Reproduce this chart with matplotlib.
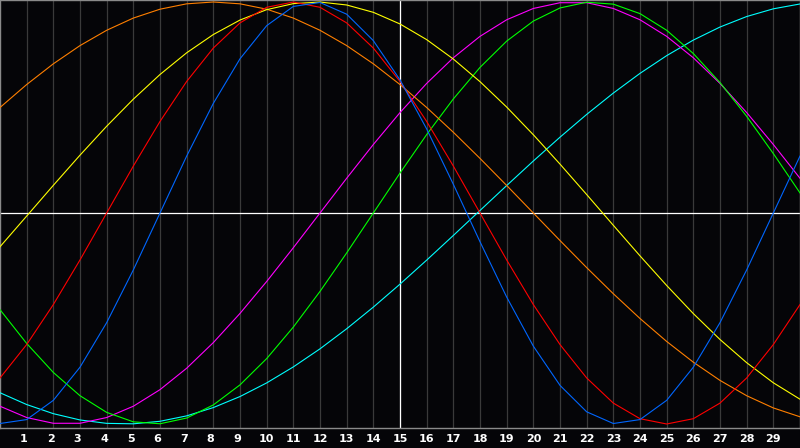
import matplotlib
matplotlib.use("Agg")
import matplotlib.pyplot as plt

days = list(range(0, 31))
tick_days = list(range(1, 30))
tick_labels = [str(d) for d in tick_days]

physical = [-0.9977, -0.9791, -0.8879, -0.7308, -0.5196, -0.2698, 0.0, 0.2698, 0.5196, 0.7308,
            0.8879, 0.9791, 0.9977, 0.9423, 0.8170, 0.6310, 0.3984, 0.1362, -0.1362, -0.3984,
            -0.6310, -0.8170, -0.9423, -0.9977, -0.9791, -0.8879, -0.7308, -0.5196, -0.2698, 0.0,
            0.2698]
emotional = [-0.7818, -0.6235, -0.4339, -0.2225, 0.0, 0.2225, 0.4339, 0.6235, 0.7818, 0.9010,
             0.9749, 1.0, 0.9749, 0.9010, 0.7818, 0.6235, 0.4339, 0.2225, 0.0, -0.2225,
             -0.4339, -0.6235, -0.7818, -0.9010, -0.9749, -1.0, -0.9749, -0.9010, -0.7818, -0.6235,
             -0.4339]
intellectual = [-0.4582, -0.6182, -0.7557, -0.8660, -0.9450, -0.9898, -0.9989, -0.9718, -0.9096, -0.8146,
                -0.6901, -0.5406, -0.3717, -0.1893, 0.0, 0.1893, 0.3717, 0.5406, 0.6901, 0.8146,
                0.9096, 0.9718, 0.9989, 0.9898, 0.9450, 0.8660, 0.7557, 0.6182, 0.4582, 0.2817,
                0.0951]
intuitive = [-0.9158, -0.9694, -0.9966, -0.9966, -0.9694, -0.9158, -0.8372, -0.7357, -0.6142, -0.4759,
             -0.3247, -0.1646, 0.0, 0.1646, 0.3247, 0.4759, 0.6142, 0.7357, 0.8372, 0.9158,
             0.9694, 0.9966, 0.9966, 0.9694, 0.9158, 0.8372, 0.7357, 0.6142, 0.4759, 0.3247,
             0.1646]
aesthetic = [-0.1600, -0.0146, 0.1311, 0.2741, 0.4112, 0.5395, 0.6564, 0.7593, 0.8459, 0.9146,
             0.9637, 0.9923, 0.9998, 0.9859, 0.9511, 0.8959, 0.8217, 0.7297, 0.6225, 0.5021,
             0.3709, 0.2318, 0.0875, -0.0584, -0.2031, -0.3435, -0.4768, -0.5995, -0.7095, -0.8047,
             -0.8826]
awareness = [0.5, 0.6088, 0.7071, 0.7934, 0.8660, 0.9239, 0.9659, 0.9914, 1.0, 0.9914,
             0.9659, 0.9239, 0.8660, 0.7934, 0.7071, 0.6088, 0.5, 0.3827, 0.2588, 0.1305,
             0.0, -0.1305, -0.2588, -0.3827, -0.5, -0.6088, -0.7071, -0.7934, -0.8660, -0.9239,
             -0.9659]
spiritual = [-0.8519, -0.9078, -0.9511, -0.9809, -0.9970, -0.9991, -0.9872, -0.9615, -0.9222, -0.8699,
             -0.8053, -0.7294, -0.6438, -0.5487, -0.4461, -0.3371, -0.2234, -0.1065, 0.0119, 0.1300,
             0.2464, 0.3593, 0.4672, 0.5684, 0.6618, 0.7458, 0.8195, 0.8814, 0.9311, 0.9677,
             0.9907]

series = [
    (spiritual, "#00ffff"),
    (intuitive, "#ff00ff"),
    (intellectual, "#00ff00"),
    (awareness, "#ff7f00"),
    (aesthetic, "#ffff00"),
    (emotional, "#ff0000"),
    (physical, "#0066ff"),
]

bg = "#050508"
fig = plt.figure(figsize=(8, 4.48), dpi=100, facecolor=bg)
ax = fig.add_axes([0, 20 / 448, 1, 428 / 448])
ax.set_facecolor(bg)
ax.set_xlim(0, 30)
ax.set_ylim(-1.019, 1.0095)

for d in tick_days:
    ax.axvline(d, color="#3a3a3a", lw=0.9, zorder=1)
ax.axvline(15, color="#ffffff", lw=0.9, zorder=2)
ax.axhline(0, color="#ffffff", lw=0.9, zorder=2)

for vals, col in series:
    ax.plot(days, vals, color=col, lw=0.8, zorder=3)

for s in ax.spines.values():
    s.set_color("#8a8a8a")
    s.set_linewidth(1.0)
ax.set_xticks([])
ax.set_yticks([])

for d, lab in zip(tick_days, tick_labels):
    off = -0.1 if len(lab) == 1 else 0.0
    fig.text((d + off) / 30, 9 / 448, lab, color="white", fontsize=8,
             fontweight="bold", ha="center", va="center", family="DejaVu Sans")

fig.savefig("out.png", dpi=100, facecolor=bg)
